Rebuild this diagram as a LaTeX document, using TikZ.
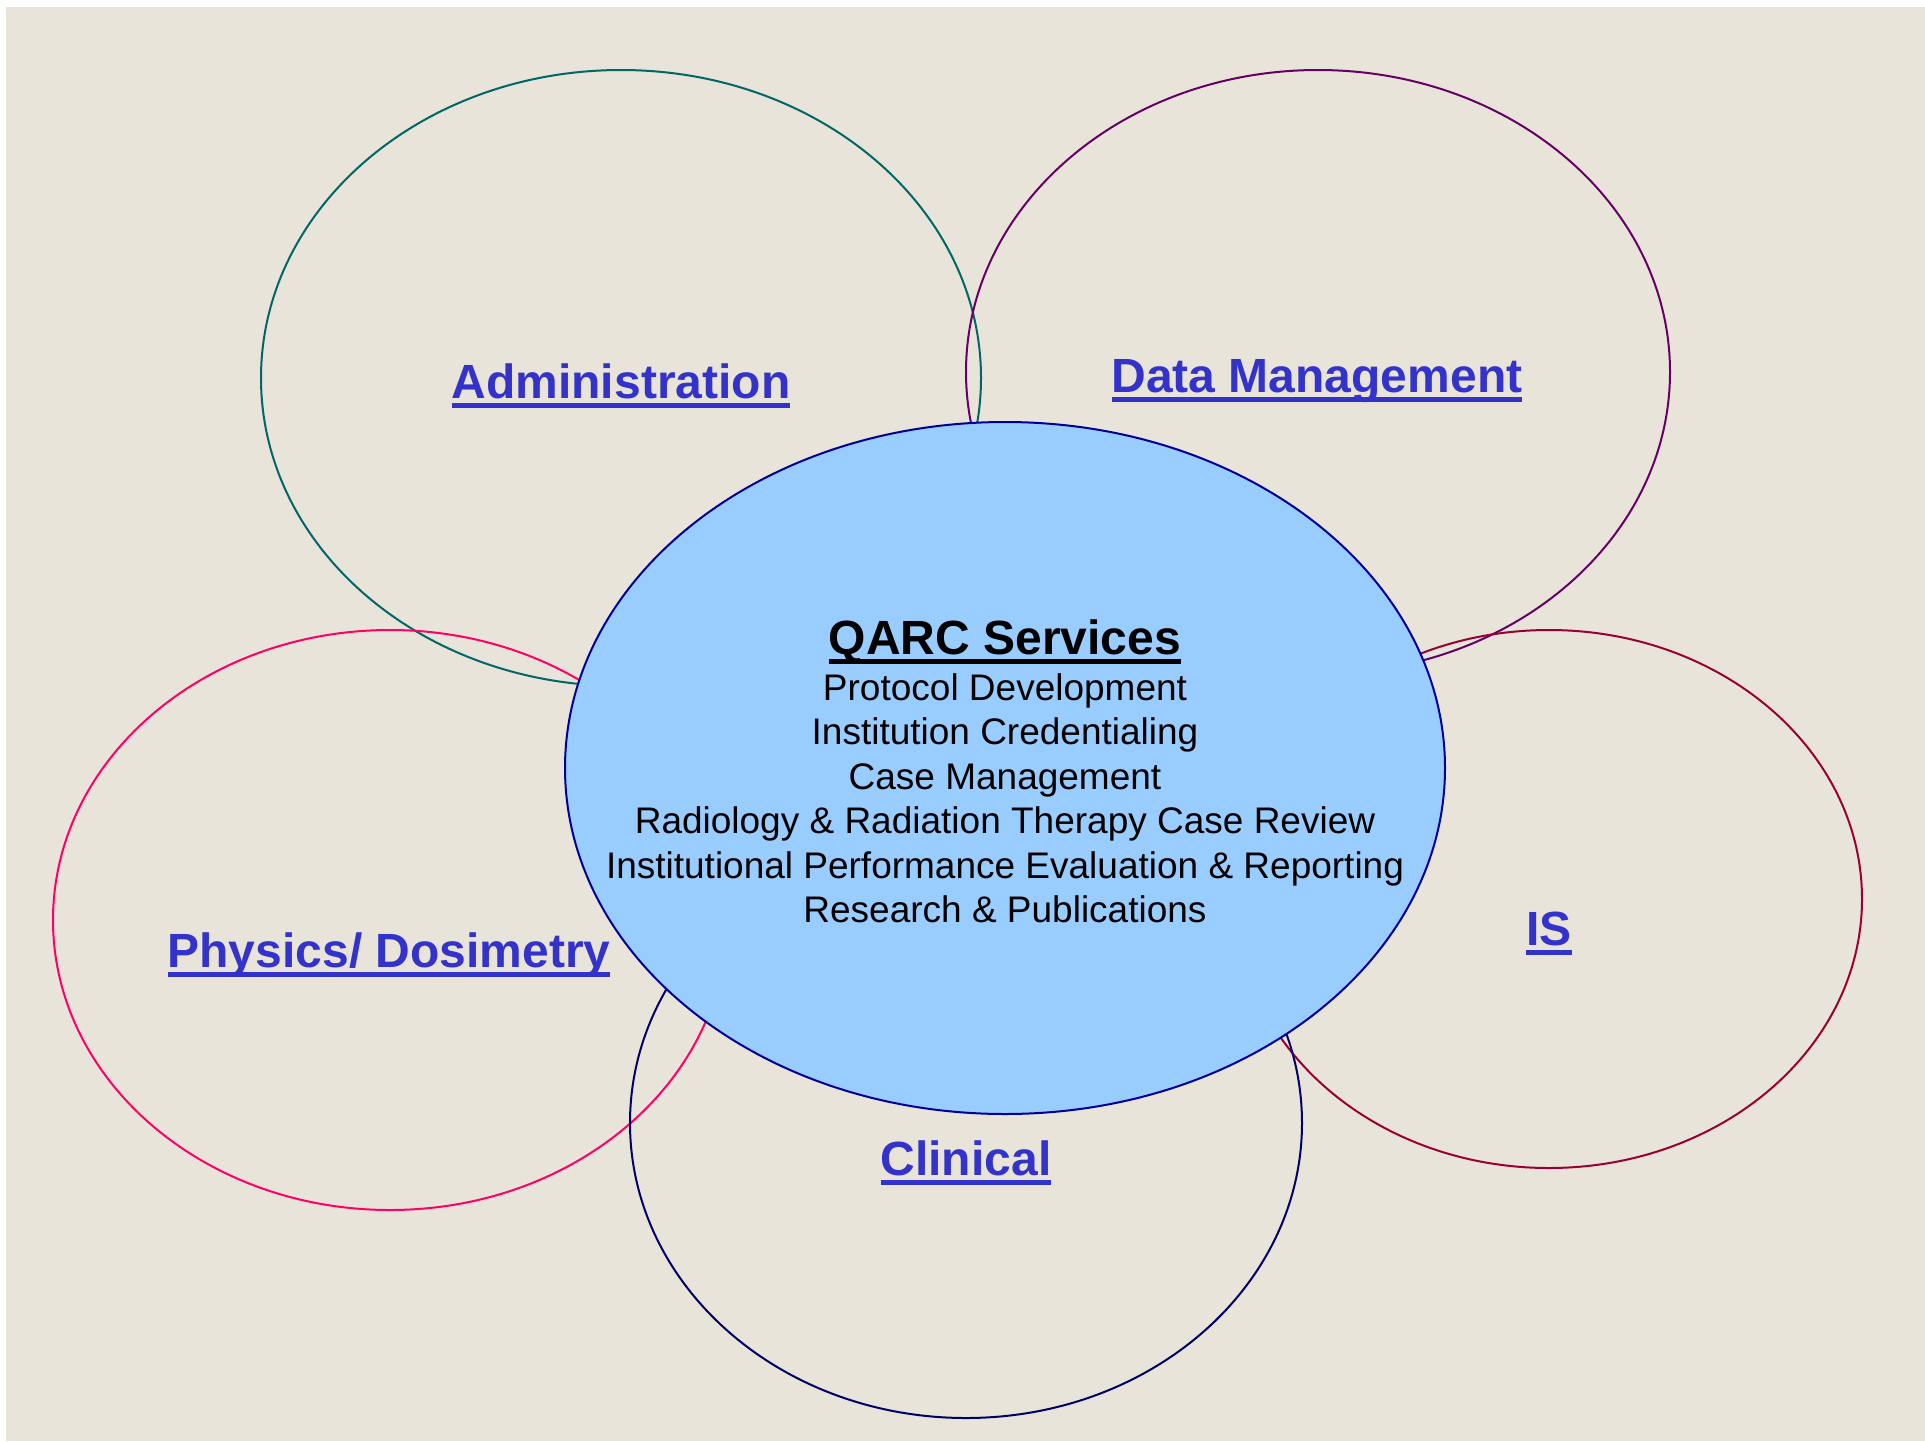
\documentclass[tikz,border=0pt]{standalone}
\usepackage{fontspec}
\setmainfont{Liberation Sans}
\usetikzlibrary{shapes.geometric}

\definecolor{paper}{RGB}{233,228,217}
\definecolor{areablue}{RGB}{51,51,204}
\definecolor{admincol}{RGB}{0,102,102}
\definecolor{datacol}{RGB}{102,0,102}
\definecolor{iscol}{RGB}{153,0,51}
\definecolor{physcol}{RGB}{255,0,102}
\definecolor{clincol}{RGB}{0,0,102}
\definecolor{qarcfill}{RGB}{153,204,255}
\definecolor{qarcline}{RGB}{0,0,153}

% thick underline that does not change the box
\newcommand\ultext[1]{\setbox0=\hbox{#1}\rlap{\raisebox{-9.5pt}[0pt][0pt]{\rule{\wd0}{4.5pt}}}\box0}

\begin{document}
\begin{tikzpicture}[x=1pt,y=-1pt,
  ring/.style = {ellipse, draw, line width=2pt, inner sep=0pt},
  area/.style = {anchor=base, text=areablue,
    font=\fontsize{48}{57}\selectfont\bfseries},
  svc/.style = {anchor=base, font=\fontsize{37}{44}\selectfont}]
  \fill[white] (0,0) rectangle (1925,1441);
  \fill[paper] (6,7) rectangle (1925,1441);

  % outer areas
  \node[ring, draw=admincol, minimum width=720pt, minimum height=616pt] (admin) at (621,378) {};
  \node[ring, draw=datacol, minimum width=704pt, minimum height=604pt] (data) at (1318,372) {};
  \node[ring, draw=iscol, minimum width=626pt, minimum height=538pt] (is) at (1549,899) {};
  \node[ring, draw=physcol, minimum width=674pt, minimum height=580pt] (phys) at (390,920) {};
  \node[ring, draw=clincol, minimum width=672pt, minimum height=590pt] (clin) at (966,1123) {};

  % services in the middle
  \node[ring, draw=qarcline, fill=qarcfill, minimum width=880pt, minimum height=692pt] (qarc) at (1005,768) {};

  \node[area] (adminlbl) at (621,398) {\ultext{Administration}};
  \node[area] (datalbl) at (1317,392) {\ultext{Data Management}};
  \node[area] (islbl) at (1549,945) {\ultext{IS}};
  \node[area] (physlbl) at (389,967) {\ultext{Physics/ Dosimetry}};
  \node[area] (clinlbl) at (966,1175) {\ultext{Clinical}};

  \node[anchor=base, font=\fontsize{48}{58}\selectfont\bfseries] (title) at (1005,654) {\ultext{QARC Services}};
  \foreach \txt [count=\i] in {Protocol Development, Institution Credentialing, Case Management,
    Radiology \& Radiation Therapy Case Review,
    Institutional Performance Evaluation \& Reporting, Research \& Publications}
    \node[svc] (svc\i) at (1005,{655.5+44.5*\i}) {\txt};
\end{tikzpicture}
\end{document}
